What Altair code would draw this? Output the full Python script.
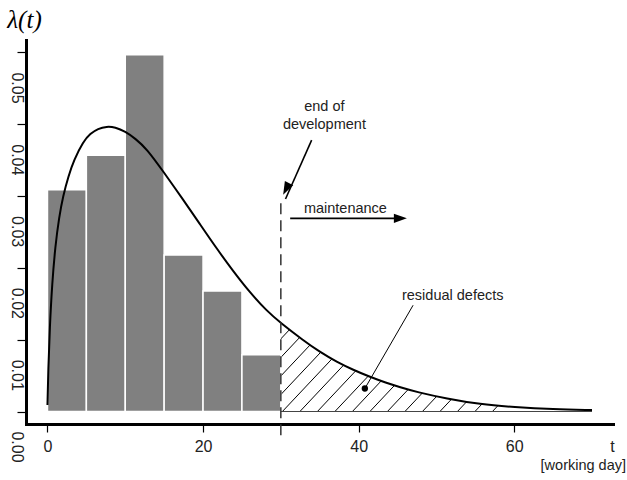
import altair as alt
import pandas as pd

# ---------------- data ----------------
bin_start = [0, 5, 10, 15, 20, 25]
bin_end = [5, 10, 15, 20, 25, 30]
bar_rate = [0.0309, 0.0357, 0.0497, 0.0218, 0.0168, 0.0079]

curve_t = [0, 0.1, 0.3, 0.6, 1.0, 1.5, 2.0, 2.7, 3.4, 4.6, 5.5, 6.5, 7.6, 8.7,
           10.0, 11.3, 12.75, 14.9, 17.45, 19.6, 21.75, 23.9, 26.0, 28.2, 30.0,
           32.9, 35.0, 37.2, 39.3, 41.5, 43.5, 45.3, 47.5, 51.3, 55.6, 60.0,
           65.0, 70.0]
curve_rate = [0.0009, 0.0058, 0.0118, 0.0178, 0.0230, 0.0271, 0.0300, 0.0328,
              0.0350, 0.0376, 0.0387, 0.0394, 0.0397, 0.0396, 0.0390, 0.0380,
              0.0366, 0.0334, 0.0295, 0.0261, 0.0227, 0.0195, 0.0166, 0.0140,
              0.0123, 0.0099, 0.0083, 0.0069, 0.0058, 0.0048, 0.0040, 0.0034,
              0.0027, 0.0018, 0.0010, 0.0006, 0.0003, 0.0002]

y_ticks = [0.0, 0.01, 0.02, 0.03, 0.04, 0.05]
x_ticks = [0, 20, 40, 60]
end_of_development = 30

# annotation anchors (data units)
ann_text = ["end of", "development", "maintenance", "residual defects"]
ann_t = [35.6, 35.6, 38.3, 52.1]
ann_v = [0.0424, 0.0399, 0.0282, 0.0161]

# ---------------- derived tables ----------------
bars = pd.DataFrame({"t": bin_start, "t2": bin_end, "v": [0] * 6, "v2": bar_rate})
curve = pd.DataFrame({"t": curve_t, "v": curve_rate})
tail = curve[curve.t >= 23].copy()
tail["top"] = 0.0155

# hatch pattern (decoration simulating a hatched fill)
SPACING, FIRST, SLOPE, H = 2.25, 30.2, 0.00115, 0.0145
starts = [FIRST + k * SPACING for k in range(-6, 13)]
hatch = pd.DataFrame({"t": starts, "v": [0.0] * len(starts),
                      "t2": [s + H / SLOPE for s in starts], "v2": [H] * len(starts)})

xs = alt.Scale(domain=[-2.76, 72.7], nice=False, zero=False)
ys = alt.Scale(domain=[-0.00174, 0.05174], nice=False, zero=False)

FONT = "Liberation Sans"
INTERP = "basis"

x_axis = alt.Axis(values=x_ticks, format="d", grid=False, domainWidth=3,
                  domainColor="black", domainCap="square", tickColor="black",
                  tickWidth=1.2, tickSize=8, labelPadding=6, labelFont=FONT,
                  labelFontSize=16, labelColor="#222", title="t",
                  titleFont=FONT, titleFontSize=16, titleFontWeight="normal",
                  titleColor="#222", titleX=586, titleY=27, titleAlign="center",
                  titleBaseline="alphabetic")
y_axis = alt.Axis(values=y_ticks, format=".2f", grid=False, domainWidth=3,
                  domainColor="black", domainCap="square", tickColor="black",
                  tickWidth=1.2, tickSize=9, labelAngle=90, labelAlign="center",
                  labelBaseline="middle", labelOffset=35, labelPadding=1,
                  labelFont=FONT, labelFontSize=16, labelColor="#222",
                  title="λ(t)", titleAngle=0, titleX=-2, titleY=-13,
                  titleAlign="center", titleBaseline="alphabetic",
                  titleFont="Liberation Serif", titleFontStyle="italic",
                  titleFontWeight="normal", titleFontSize=25, titleColor="black")

base_x = alt.X("t:Q", scale=xs, axis=x_axis)
base_y = alt.Y("v:Q", scale=ys, axis=y_axis)

hatch_layer = alt.Chart(hatch).mark_rule(color="black", strokeWidth=1).encode(
    x=base_x, y=base_y, x2="t2:Q", y2="v2:Q")

mask_left = alt.Chart(pd.DataFrame({"t": [16.0], "t2": [30.0], "v": [-0.0002], "v2": [0.0155]})
                      ).mark_rect(color="white").encode(x=base_x, x2="t2:Q", y=base_y, y2="v2:Q")
mask_right = alt.Chart(pd.DataFrame({"t": [69.9], "t2": [71.5], "v": [-0.0002], "v2": [0.0155]})
                       ).mark_rect(color="white").encode(x=base_x, x2="t2:Q", y=base_y, y2="v2:Q")
mask_top = alt.Chart(tail).mark_area(color="white", interpolate=INTERP).encode(
    x=base_x, y=base_y, y2="top:Q")

bar_layer = alt.Chart(bars).mark_rect(color="#808080", stroke="white", strokeWidth=1.5).encode(
    x=base_x, x2="t2:Q", y=base_y, y2="v2:Q")

baseline = alt.Chart(pd.DataFrame({"t": [30.0], "t2": [70.0], "v": [0.0]})).mark_rule(
    color="#444", strokeWidth=1.2).encode(x=base_x, x2="t2:Q", y=base_y)

curve_layer = alt.Chart(curve).mark_line(color="black", strokeWidth=2,
                                         interpolate=INTERP).encode(x=base_x, y=base_y)

dashed = alt.Chart(pd.DataFrame({"t": [end_of_development], "v": [0.029], "v2": [-0.0041]})
                   ).mark_rule(color="#333", strokeWidth=1.5, strokeDash=[11, 6]).encode(
    x=base_x, y=base_y, y2="v2:Q")

# arrows: shafts and heads
shafts = pd.DataFrame({"t": [33.96, 31.2], "v": [0.0378, 0.0269],
                       "t2": [30.6, 45.5], "v2": [0.0296, 0.0269]})
shaft_layer = alt.Chart(shafts).mark_rule(color="black", strokeWidth=1.6).encode(
    x=base_x, y=base_y, x2="t2:Q", y2="v2:Q")
heads = pd.DataFrame({"t": [30.3, 46.2], "v": [0.0302, 0.0269], "ang": [117, 0]})
head_layer = alt.Chart(heads).mark_point(
    shape="M0,0L-1,-0.36L-1,0.36Z", filled=True, color="black", opacity=1,
    size=676, strokeWidth=0).encode(x=base_x, y=base_y, angle=alt.Angle("ang:Q", scale=None))

pointer = alt.Chart(pd.DataFrame({"t": [47.0], "v": [0.0148], "t2": [40.8], "v2": [0.0032]})
                    ).mark_rule(color="black", strokeWidth=1).encode(
    x=base_x, y=base_y, x2="t2:Q", y2="v2:Q")
dot = alt.Chart(pd.DataFrame({"t": [40.8], "v": [0.0032]})).mark_point(
    filled=True, color="black", opacity=1, size=40, shape="circle").encode(x=base_x, y=base_y)

labels = alt.Chart(pd.DataFrame({"t": ann_t, "v": ann_v, "txt": ann_text})).mark_text(
    font=FONT, fontSize=14.5, color="#222", align="center", baseline="middle").encode(
    x=base_x, y=base_y, text="txt:N")

unit = alt.Chart(pd.DataFrame({"txt": ["[working day]"]})).mark_text(
    font=FONT, fontSize=14.5, color="#222", align="right", baseline="alphabetic").encode(
    x=alt.value(600), y=alt.value(430), text="txt:N")

chart = alt.layer(hatch_layer, mask_left, mask_right, mask_top, bar_layer, baseline,
                  curve_layer, dashed, shaft_layer, head_layer, pointer, dot, labels, unit
                  ).properties(
    width=587, height=384, autosize="none",
    padding={"left": 26, "top": 40, "right": 14, "bottom": 56},
    background="white",
).configure_view(stroke=None)

chart.save("out.html", embed_options={"renderer": "svg", "actions": False})
